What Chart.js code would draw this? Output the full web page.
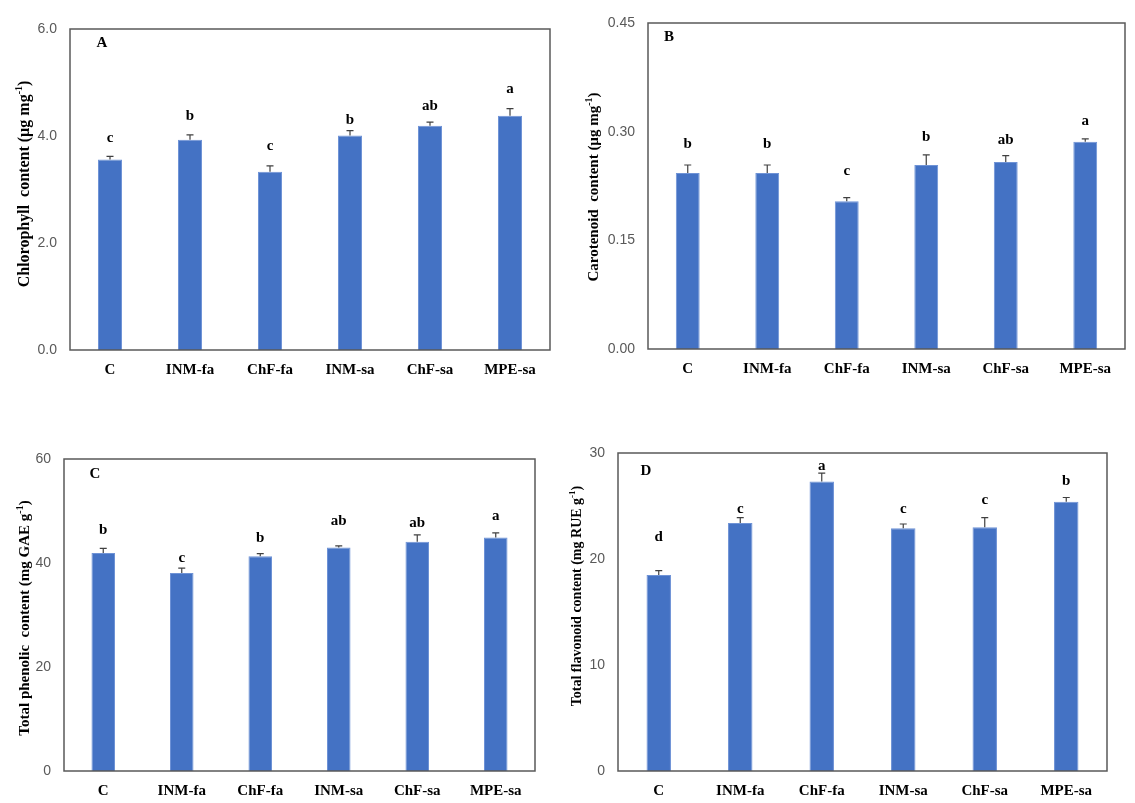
<!DOCTYPE html>
<html>
<head>
<meta charset="utf-8">
<script src="https://cdn.jsdelivr.net/npm/chart.js@4.4.1/dist/chart.umd.min.js"></script>
<style>
  html, body { margin: 0; padding: 0; background: #ffffff; }
  body { width: 1135px; height: 803px; position: relative; overflow: hidden; }
  .panel { position: absolute; }
</style>
</head>
<body>
<div class="panel" id="pA" style="left:0px;top:0px;width:570px;height:400px;"><canvas id="cA"></canvas></div>
<div class="panel" id="pB" style="left:570px;top:0px;width:565px;height:400px;"><canvas id="cB"></canvas></div>
<div class="panel" id="pC" style="left:0px;top:410px;width:570px;height:393px;"><canvas id="cC"></canvas></div>
<div class="panel" id="pD" style="left:555px;top:410px;width:580px;height:393px;"><canvas id="cD"></canvas></div>
<script>
// ---------- data ----------
const categories = ['C', 'INM-fa', 'ChF-fa', 'INM-sa', 'ChF-sa', 'MPE-sa'];

const chlorophyll = [3.56, 3.93, 3.33, 4.01, 4.19, 4.38];
const chlorophyllErr = [0.06, 0.09, 0.11, 0.09, 0.07, 0.13];
const chlorophyllLetters = ['c', 'b', 'c', 'b', 'ab', 'a'];
const chlorophyllLetterLevel = [3.96, 4.37, 3.81, 4.29, 4.56, 4.88];
const chlorophyllTicks = [0, 2, 4, 6];

const carotenoid = [0.243, 0.243, 0.204, 0.254, 0.258, 0.286];
const carotenoidErr = [0.011, 0.011, 0.005, 0.014, 0.009, 0.004];
const carotenoidLetters = ['b', 'b', 'c', 'b', 'ab', 'a'];
const carotenoidLetterLevel = [0.283, 0.283, 0.245, 0.292, 0.288, 0.315];
const carotenoidTicks = [0, 0.15, 0.30, 0.45];

const phenolic = [41.9, 38.1, 41.3, 43.0, 44.1, 44.9];
const phenolicErr = [0.9, 0.9, 0.5, 0.3, 1.3, 0.9];
const phenolicLetters = ['b', 'c', 'b', 'ab', 'ab', 'a'];
const phenolicLetterLevel = [46.4, 41.0, 44.8, 48.0, 47.6, 49.0];
const phenolicTicks = [0, 20, 40, 60];

const flavonoid = [18.5, 23.4, 27.3, 22.9, 23.0, 25.4];
const flavonoidErr = [0.4, 0.5, 0.8, 0.4, 0.9, 0.4];
const flavonoidLetters = ['d', 'c', 'a', 'c', 'c', 'b'];
const flavonoidLetterLevel = [22.1, 24.7, 28.8, 24.7, 25.6, 27.3];
const flavonoidTicks = [0, 10, 20, 30];

// ---------- plugin: frame, error bars, letters, titles ----------
const extrasPlugin = {
  id: 'extras',
  afterDatasetsDraw(chart) {
    const o = chart.options.plugins.extras;
    const ctx = chart.ctx;
    const area = chart.chartArea;
    const y = chart.scales.y;
    const meta = chart.getDatasetMeta(0);
    const ds = chart.data.datasets[0];
    ctx.save();
    // frame
    ctx.strokeStyle = '#595959';
    ctx.lineWidth = 1.5;
    ctx.strokeRect(area.left, area.top, area.right - area.left, area.bottom - area.top);
    // error bars (upper half with cap)
    ctx.strokeStyle = '#404040';
    ctx.lineWidth = 1.2;
    meta.data.forEach((bar, i) => {
      const v = ds.data[i];
      const e = o.err[i];
      const yTop = y.getPixelForValue(v + e);
      const yBar = y.getPixelForValue(v);
      ctx.beginPath();
      ctx.moveTo(bar.x, yBar);
      ctx.lineTo(bar.x, yTop);
      ctx.moveTo(bar.x - 3.5, yTop);
      ctx.lineTo(bar.x + 3.5, yTop);
      ctx.stroke();
      // significance letters
      ctx.fillStyle = '#000000';
      ctx.font = 'bold 15px "Liberation Serif", "Times New Roman", serif';
      ctx.textAlign = 'center';
      ctx.textBaseline = 'middle';
      ctx.fillText(o.letters[i], bar.x, y.getPixelForValue(o.letterLevel[i]));
    });
    // panel letter
    ctx.fillStyle = '#000000';
    ctx.font = 'bold 15px "Liberation Serif", "Times New Roman", serif';
    ctx.textAlign = 'center';
    ctx.textBaseline = 'middle';
    ctx.fillText(o.panel, area.left + o.panelDx, area.top + o.panelDy);
    // y-axis title with superscript
    const t = o.title;
    const fs = o.titleSize;
    const mainFont = 'bold ' + fs + 'px "Liberation Serif", "Times New Roman", serif';
    const supFont = 'bold ' + Math.round(fs * 0.65) + 'px "Liberation Serif", "Times New Roman", serif';
    ctx.font = mainFont;
    const w1 = ctx.measureText(t[0]).width;
    const w3 = ctx.measureText(t[2]).width;
    ctx.font = supFont;
    const w2 = ctx.measureText(t[1]).width;
    const total = w1 + w2 + w3;
    ctx.translate(o.titleX, o.titleCY);
    ctx.rotate(-Math.PI / 2);
    ctx.textAlign = 'left';
    ctx.textBaseline = 'middle';
    let xx = -total / 2;
    ctx.font = mainFont;
    ctx.fillText(t[0], xx, 0);
    xx += w1;
    ctx.font = supFont;
    ctx.fillText(t[1], xx, -fs * 0.33);
    xx += w2;
    ctx.font = mainFont;
    ctx.fillText(t[2], xx, 0);
    ctx.restore();
  }
};

function makeChart(canvasId, values, err, letters, letterLevel, ticks, decimals, title, panel, lay) {
  new Chart(document.getElementById(canvasId), {
    type: 'bar',
    data: {
      labels: categories,
      datasets: [{
        data: values,
        backgroundColor: '#4472C4',
        borderColor: '#6f93d6',
        borderWidth: 1,
        barPercentage: 0.3,
        categoryPercentage: 1.0
      }]
    },
    options: {
      responsive: true,
      maintainAspectRatio: false,
      animation: false,
      layout: { padding: { left: 0, top: lay.top, right: lay.right, bottom: 0 } },
      plugins: {
        legend: { display: false },
        tooltip: { enabled: false },
        extras: {
          err: err, letters: letters, letterLevel: letterLevel, title: title, panel: panel,
          panelDx: lay.panelDx, panelDy: lay.panelDy,
          titleX: lay.titleX, titleCY: lay.titleCY, titleSize: lay.titleSize
        }
      },
      scales: {
        x: {
          grid: { display: false, drawTicks: false },
          border: { display: false },
          ticks: {
            color: '#000000',
            padding: 11,
            autoSkip: false,
            maxRotation: 0,
            font: { family: '"Liberation Serif", "Times New Roman", serif', size: 15, weight: 'bold' }
          },
          afterFit(scale) { scale.height = lay.xH; }
        },
        y: {
          min: ticks[0],
          max: ticks[ticks.length - 1],
          afterBuildTicks(scale) { scale.ticks = ticks.map(v => ({ value: v })); },
          grid: { display: false, drawTicks: false },
          border: { display: false },
          ticks: {
            color: '#595959',
            padding: 13,
            font: { family: '"Liberation Sans", Arial, sans-serif', size: 14 },
            callback: (v) => Number(v).toFixed(decimals)
          },
          afterFit(scale) { scale.width = lay.yW; }
        }
      }
    },
    plugins: [extrasPlugin]
  });
}

makeChart('cA', chlorophyll, chlorophyllErr, chlorophyllLetters, chlorophyllLetterLevel, chlorophyllTicks, 1,
  ['Chlorophyll  content (\u00B5g mg', '-1', ')'], 'A',
  { top: 29, right: 20, yW: 70, xH: 50, panelDx: 32, panelDy: 14, titleX: 25, titleCY: 184, titleSize: 16 });

makeChart('cB', carotenoid, carotenoidErr, carotenoidLetters, carotenoidLetterLevel, carotenoidTicks, 2,
  ['Carotenoid  content (\u00B5g mg', '-1', ')'], 'B',
  { top: 23, right: 10, yW: 78, xH: 51, panelDx: 21, panelDy: 14, titleX: 24, titleCY: 187, titleSize: 15 });

makeChart('cC', phenolic, phenolicErr, phenolicLetters, phenolicLetterLevel, phenolicTicks, 0,
  ['Total phenolic  content (mg GAE g', '-1', ')'], 'C',
  { top: 49, right: 35, yW: 64, xH: 32, panelDx: 31, panelDy: 15, titleX: 25, titleCY: 208, titleSize: 15 });

makeChart('cD', flavonoid, flavonoidErr, flavonoidLetters, flavonoidLetterLevel, flavonoidTicks, 0,
  ['Total flavonoid content (mg RUE g', '-1', ')'], 'D',
  { top: 43, right: 28, yW: 63, xH: 32, panelDx: 28, panelDy: 18, titleX: 22, titleCY: 186, titleSize: 14 });
</script>
</body>
</html>
